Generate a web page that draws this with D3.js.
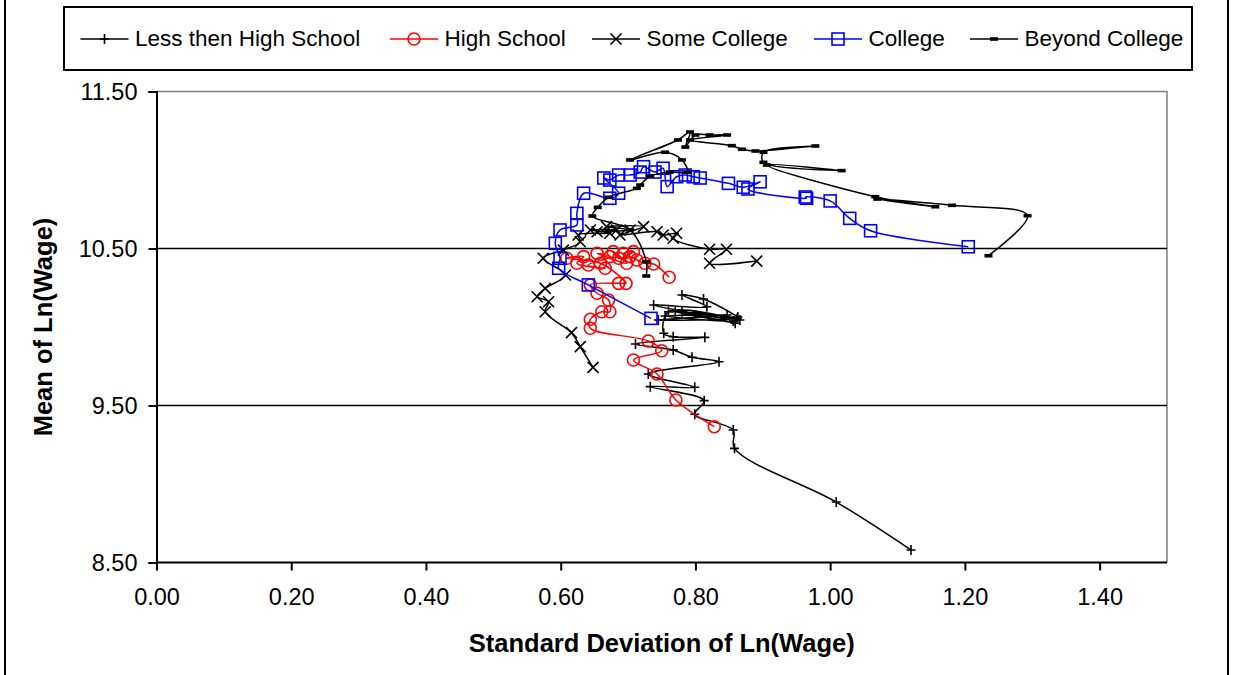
<!DOCTYPE html>
<html><head><meta charset="utf-8">
<script src="https://cdn.jsdelivr.net/npm/d3@7"></script>
<style>body{margin:0;background:#fff} svg{display:block;font-family:"Liberation Sans",Arial,sans-serif}</style>
</head><body><svg id="c" width="1233" height="675"></svg>
<script>
// ---------- data ----------
const seriesNames = ["Less then High School","High School","Some College","College","Beyond College"];
const xTickValues = [0,0.2,0.4,0.6,0.8,1.0,1.2,1.4];
const yTickValues = [8.5,9.5,10.5,11.5];
const xTitle = "Standard Deviation of Ln(Wage)";
const yTitle = "Mean of Ln(Wage)";

const lessHS_sd   = [1.120,1.009,0.858,0.856,0.799,0.813,0.733,0.799,0.730,0.835,0.795,0.767,0.711,0.814,0.767,0.753,0.760,0.866,0.770,0.859,0.780,0.862,0.745,0.847,0.755,0.856,0.738,0.817,0.780,0.812,0.863];
const lessHS_mean = [8.580,8.885,9.227,9.344,9.444,9.531,9.620,9.616,9.701,9.779,9.807,9.854,9.892,9.934,9.938,9.960,10.097,10.045,10.097,10.024,10.097,10.055,10.045,10.076,10.070,10.038,10.140,10.129,10.204,10.178,10.064];

const hs_sd   = [0.828,0.771,0.743,0.708,0.750,0.730,0.644,0.644,0.661,0.673,0.671,0.654,0.644,0.686,0.697,0.659,0.609,0.634,0.624,0.666,0.641,0.673,0.654,0.698,0.678,0.686,0.708,0.693,0.703,0.713,0.725,0.738,0.761];
const hs_mean = [9.365,9.535,9.701,9.790,9.849,9.911,9.992,10.049,10.097,10.097,10.172,10.215,10.268,10.278,10.278,10.406,10.438,10.448,10.406,10.374,10.395,10.448,10.469,10.406,10.480,10.438,10.480,10.469,10.448,10.427,10.406,10.401,10.317];

const sc_sd   = [0.648,0.629,0.616,0.577,0.582,0.565,0.577,0.607,0.574,0.604,0.629,0.626,0.673,0.644,0.683,0.654,0.703,0.668,0.723,0.688,0.743,0.752,0.772,0.767,0.821,0.846,0.821,0.891];
const sc_mean = [9.743,9.875,9.964,10.097,10.161,10.193,10.246,10.331,10.438,10.490,10.543,10.586,10.597,10.618,10.618,10.607,10.618,10.639,10.639,10.586,10.607,10.586,10.597,10.565,10.495,10.495,10.406,10.420];

const col_sd   = [0.734,0.641,0.597,0.599,0.592,0.599,0.624,0.624,0.634,0.673,0.686,0.664,0.673,0.686,0.703,0.718,0.723,0.740,0.752,0.758,0.772,0.785,0.797,0.807,0.849,0.871,0.896,0.878,0.965,0.963,1.000,1.029,1.060,1.205];
const col_mean = [10.055,10.268,10.374,10.438,10.533,10.618,10.650,10.724,10.852,10.820,10.852,10.949,10.936,10.968,10.968,10.987,11.021,10.987,11.011,10.894,10.957,10.968,10.957,10.949,10.915,10.890,10.925,10.879,10.820,10.828,10.803,10.692,10.613,10.511];

const bc_sd   = [0.727,0.727,0.703,0.647,0.655,0.671,0.713,0.718,0.733,0.762,0.788,0.780,0.755,0.703,0.774,0.792,0.785,0.800,0.821,0.847,0.792,0.854,0.869,0.889,0.978,0.901,0.901,1.017,0.906,1.067,1.156,1.070,1.181,1.293,1.235];
const bc_mean = [10.325,10.416,10.618,10.707,10.762,10.826,10.883,10.904,10.962,10.987,10.987,11.064,11.113,11.064,11.191,11.242,11.146,11.223,11.223,11.223,11.191,11.155,11.132,11.121,11.153,11.113,11.049,10.996,11.032,10.830,10.766,10.815,10.775,10.709,10.454];

const series = [
  {name: seriesNames[0], sd: lessHS_sd, mean: lessHS_mean, color: "#000000", marker: "plus"},
  {name: seriesNames[1], sd: hs_sd,     mean: hs_mean,     color: "#FF0000", marker: "circle"},
  {name: seriesNames[2], sd: sc_sd,     mean: sc_mean,     color: "#000000", marker: "x"},
  {name: seriesNames[3], sd: col_sd,    mean: col_mean,    color: "#0000FF", marker: "square"},
  {name: seriesNames[4], sd: bc_sd,     mean: bc_mean,     color: "#000000", marker: "dash"}
];

// ---------- layout ----------
const svg = d3.select("#c");
const W = 1233, H = 675;
const plot = {left: 156.5, right: 1167, top: 91.5, bottom: 562.5};
const x = d3.scaleLinear().domain([0, 1.5]).range([plot.left, plot.right]);
const y = d3.scaleLinear().domain([8.5, 11.5]).range([plot.bottom, plot.top]);

svg.append("rect").attr("width", W).attr("height", H).attr("fill", "#fff");
// outer frame (left/right edges visible)
svg.append("line").attr("x1", 5).attr("x2", 5).attr("y1", 0).attr("y2", H).attr("stroke", "#000").attr("stroke-width", 2);
svg.append("line").attr("x1", 1228).attr("x2", 1228).attr("y1", 0).attr("y2", H).attr("stroke", "#000").attr("stroke-width", 2);

// plot area border (top/right gray)
svg.append("path")
  .attr("d", `M${plot.left},${plot.top}H${plot.right}V${plot.bottom}`)
  .attr("fill", "none").attr("stroke", "#808080").attr("stroke-width", 1.5);

// gridlines
svg.append("g").selectAll("line").data(yTickValues.filter(v => v > 8.5 && v < 11.5)).join("line")
  .attr("x1", plot.left).attr("x2", plot.right)
  .attr("y1", d => y(d)).attr("y2", d => y(d))
  .attr("stroke", "#000").attr("stroke-width", 1.5);

// axes
const xAxis = svg.append("g").attr("transform", `translate(0,${plot.bottom})`)
  .call(d3.axisBottom(x).tickValues(xTickValues).tickFormat(d3.format(".2f")).tickSizeOuter(0).tickSize(8).tickPadding(18));
const yAxis = svg.append("g").attr("transform", `translate(${plot.left},0)`)
  .call(d3.axisLeft(y).tickValues(yTickValues).tickFormat(d3.format(".2f")).tickSizeOuter(0).tickSize(8).tickPadding(11));
[xAxis, yAxis].forEach(a => {
  a.select(".domain").attr("stroke", "#000").attr("stroke-width", 2);
  a.selectAll(".tick line").attr("stroke", "#000").attr("stroke-width", 2);
  a.selectAll(".tick text").attr("font-size", 23.5).attr("fill", "#000")
    .attr("font-family", "'Liberation Sans',Arial,sans-serif");
});
xAxis.select(".domain").attr("d", `M${plot.left},0H${plot.right}`);

// axis titles
svg.append("text").attr("x", (plot.left + plot.right) / 2).attr("y", 652)
  .attr("text-anchor", "middle").attr("font-weight", "bold").attr("font-size", 25.5).text(xTitle);
svg.append("text").attr("transform", `translate(52,${(plot.top + plot.bottom) / 2}) rotate(-90)`)
  .attr("text-anchor", "middle").attr("font-weight", "bold").attr("font-size", 25.5).text(yTitle);

// ---------- markers ----------
function drawMarker(g, type, color, cx, cy) {
  if (type === "plus") {
    g.append("path").attr("d", `M${cx-4.5},${cy}H${cx+4.5}M${cx},${cy-5}V${cy+5}`)
      .attr("stroke", color).attr("stroke-width", 1.6).attr("fill", "none");
  } else if (type === "circle") {
    g.append("circle").attr("cx", cx).attr("cy", cy).attr("r", 6)
      .attr("stroke", color).attr("stroke-width", 1.6).attr("fill", "none");
  } else if (type === "x") {
    const s = 5.5;
    g.append("path").attr("d", `M${cx-s},${cy-s}L${cx+s},${cy+s}M${cx-s},${cy+s}L${cx+s},${cy-s}`)
      .attr("stroke", color).attr("stroke-width", 1.6).attr("fill", "none");
  } else if (type === "square") {
    g.append("rect").attr("x", cx - 6).attr("y", cy - 6).attr("width", 12).attr("height", 12)
      .attr("stroke", color).attr("stroke-width", 1.6).attr("fill", "none");
  } else if (type === "dash") {
    g.append("rect").attr("x", cx - 4).attr("y", cy - 1.8).attr("width", 8).attr("height", 3.6)
      .attr("fill", color);
  }
}

// ---------- series ----------
const line = d3.line().x(d => x(d[0])).y(d => y(d[1])).curve(d3.curveCatmullRom.alpha(0.5));
series.forEach(s => {
  const pts = s.sd.map((v, i) => [v, s.mean[i]]);
  const g = svg.append("g");
  g.append("path").attr("d", line(pts)).attr("fill", "none")
    .attr("stroke", s.color).attr("stroke-width", 1.5);
  pts.forEach(p => drawMarker(g, s.marker, s.color, x(p[0]), y(p[1])));
});

// ---------- legend ----------
const legend = svg.append("g");
legend.append("rect").attr("x", 64).attr("y", 7).attr("width", 1128).attr("height", 63)
  .attr("fill", "#fff").attr("stroke", "#000").attr("stroke-width", 2);
const legendX = [80.5, 390, 592, 814, 970];
const legendY = 39;
series.forEach((s, i) => {
  const lx = legendX[i];
  legend.append("line").attr("x1", lx).attr("x2", lx + 48).attr("y1", legendY).attr("y2", legendY)
    .attr("stroke", s.color).attr("stroke-width", 1.5);
  drawMarker(legend, s.marker, s.color, lx + 24, legendY);
  legend.append("text").attr("x", lx + 54.5).attr("y", 46).attr("font-size", 22.5).attr("fill", "#000").text(s.name);
});
</script></body></html>
